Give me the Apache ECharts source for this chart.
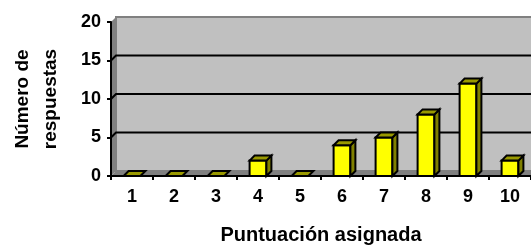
<!DOCTYPE html>
<html>
<head>
<meta charset="utf-8">
<script src="https://cdn.jsdelivr.net/npm/echarts@6/dist/echarts.min.js"></script>
<style>
  html, body { margin: 0; padding: 0; background: #fff; }
  #chart { width: 531px; height: 250px; }
</style>
</head>
<body>
<div id="chart"></div>
<script>
const categories = ['1', '2', '3', '4', '5', '6', '7', '8', '9', '10']
const counts = [0, 0, 0, 2, 0, 4, 5, 8, 12, 2]
const yTicks = [0, 5, 10, 15, 20]

const DEPTH = 5
const FONT = 'Liberation Sans, Arial, sans-serif'

const chart = echarts.init(document.getElementById('chart'))

function renderBar(params, api) {
  const i = api.value(0)
  const v = api.value(1)
  const top = api.coord([i, v])
  const base = api.coord([i, 0])
  const w = api.size([1, 0])[0] * 0.4
  const x0 = top[0] - w / 2
  const x1 = top[0] + w / 2
  const d = DEPTH
  const line = { stroke: '#000', lineWidth: 2 }
  const topFace = {
    type: 'polygon',
    shape: { points: [[x0, top[1]], [x0 + d, top[1] - d], [x1 + d, top[1] - d], [x1, top[1]]] },
    style: { fill: '#999900', ...line },
  }
  if (v <= 0) return { type: 'group', children: [topFace] }
  return {
    type: 'group',
    children: [
      {
        type: 'rect',
        shape: { x: x0, y: top[1], width: w, height: base[1] - top[1] },
        style: { fill: '#ffff00', ...line },
      },
      {
        type: 'polygon',
        shape: { points: [[x1, top[1]], [x1 + d, top[1] - d], [x1 + d, base[1] - d], [x1, base[1]]] },
        style: { fill: '#808000', ...line },
      },
      topFace,
    ],
  }
}

chart.setOption({
  animation: false,
  grid: { left: 111, right: -3, top: 22, bottom: 72 },
  xAxis: {
    type: 'category',
    data: categories,
    name: 'Puntuación asignada',
    nameLocation: 'middle',
    nameGap: 49,
    nameTextStyle: { color: '#000', fontSize: 20, fontWeight: 'bold', fontFamily: FONT },
    axisLine: { lineStyle: { color: '#000', width: 2 } },
    axisTick: { show: true, length: 4, lineStyle: { color: '#000', width: 2 } },
    axisLabel: { color: '#000', fontSize: 18, fontWeight: 'bold', fontFamily: FONT, margin: 12 },
  },
  yAxis: {
    type: 'value',
    min: yTicks[0],
    max: yTicks[yTicks.length - 1],
    interval: yTicks[1] - yTicks[0],
    name: 'Número de\nrespuestas',
    nameLocation: 'middle',
    nameRotate: 90,
    nameGap: 46,
    nameTextStyle: { color: '#000', fontSize: 19, fontWeight: 'bold', fontFamily: FONT, lineHeight: 28 },
    axisLine: { show: true, lineStyle: { color: '#000', width: 2 } },
    axisTick: { show: true, length: 4, lineStyle: { color: '#000', width: 2 } },
    axisLabel: { color: '#000', fontSize: 18, fontWeight: 'bold', fontFamily: FONT, margin: 10 },
    splitLine: { show: false },
  },
  series: [{
    type: 'custom',
    renderItem: renderBar,
    encode: { x: 0, y: 1 },
    data: counts.map((c, i) => [i, c]),
    z: 3,
  }],
})

// paredes 3D del gráfico (fondo, suelo, lateral) y líneas de división
function drawWalls() {
  const band = chart.convertToPixel({ xAxisIndex: 0 }, 1) - chart.convertToPixel({ xAxisIndex: 0 }, 0)
  const left = chart.convertToPixel({ xAxisIndex: 0 }, 0) - band / 2
  const right = chart.convertToPixel({ xAxisIndex: 0 }, categories.length - 1) + band / 2
  const yBottom = chart.convertToPixel({ yAxisIndex: 0 }, yTicks[0])
  const yTop = chart.convertToPixel({ yAxisIndex: 0 }, yTicks[yTicks.length - 1])
  const d = DEPTH
  const els = [
    {
      type: 'rect', z: -10,
      shape: { x: left + d, y: yTop - d, width: right - left, height: yBottom - yTop },
      style: { fill: '#c0c0c0', stroke: '#808080', lineWidth: 2 },
    },
    {
      type: 'polygon', z: -9,
      shape: { points: [[left, yTop], [left + d, yTop - d], [left + d, yBottom - d], [left, yBottom]] },
      style: { fill: '#808080' },
    },
    {
      type: 'polygon', z: -9,
      shape: { points: [[left, yBottom], [left + d, yBottom - d], [right + d, yBottom - d], [right, yBottom]] },
      style: { fill: '#808080' },
    },
  ]
  yTicks.slice(1, -1).forEach(t => {
    const y = chart.convertToPixel({ yAxisIndex: 0 }, t)
    els.push({
      type: 'polyline', z: -8,
      shape: { points: [[left, y], [left + d, y - d], [right + d, y - d]] },
      style: { stroke: '#000', lineWidth: 2, fill: null },
    })
  })
  chart.setOption({ graphic: { elements: els } })
}

drawWalls()
</script>
</body>
</html>
